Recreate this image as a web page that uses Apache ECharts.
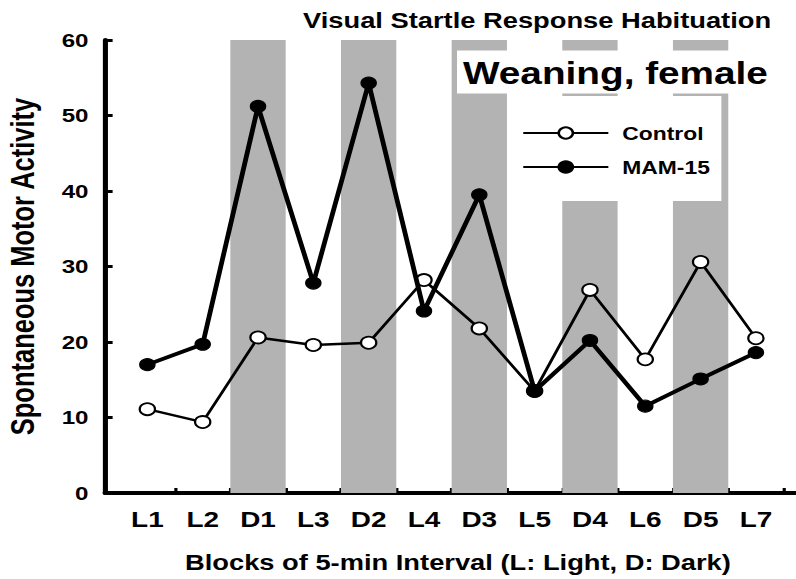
<!DOCTYPE html>
<html>
<head>
<meta charset="utf-8">
<script src="https://cdn.jsdelivr.net/npm/echarts@6/dist/echarts.min.js"></script>
<style>
  html, body { margin: 0; padding: 0; background: #fff; overflow: hidden; }
  /* the figure is laid out narrow and widened horizontally, like the printed plate */
  #chart { width: 626.77px; height: 579px; transform: scaleX(1.27); transform-origin: 0 0; }
</style>
</head>
<body>
<div id="chart"></div>
<script>
// Blocks of 5-min interval (L: light, D: dark)
const blocks = ['L1', 'L2', 'D1', 'L3', 'D2', 'L4', 'D3', 'L5', 'D4', 'L6', 'D5', 'L7'];
const darkBlocks = ['D1', 'D2', 'D3', 'D4', 'D5'];
// Spontaneous motor activity per block
const control = [11.1, 9.4, 20.6, 19.6, 19.9, 28.2, 21.8, 13.5, 26.9, 17.7, 30.6, 20.5];
const mam15 = [17.0, 19.7, 51.2, 27.8, 54.3, 24.1, 39.5, 13.5, 20.2, 11.5, 15.1, 18.6];
// Value axis range and step
const yMin = 0, yMax = 60, yStep = 10;

const S = 1.27;                 // horizontal widening factor
const X = v => v / S;           // page px -> layout px
const FONT = '"Liberation Sans", Arial, Helvetica, sans-serif';
const bold = (size, extra) => Object.assign({ fontFamily: FONT, fontWeight: 'bold', fontSize: size, color: '#000' }, extra || {});

// shaded dark-phase columns reach the top of the value axis
const darkColumn = blocks.map(b => darkBlocks.includes(b) ? yMax : '-');

const chart = echarts.init(document.getElementById('chart'), null, { renderer: 'svg' });

chart.setOption({
  backgroundColor: '#fff',
  animation: false,
  title: [
    { text: 'Visual Startle Response Habituation', left: X(303), top: 10, padding: 0,
      textStyle: bold(21.5) },
    { text: 'Weaning, female', left: X(457), top: 51, padding: [7, 10, 5, 4.7],
      backgroundColor: '#fff', textStyle: bold(30.5, { lineHeight: 30 }) },
    { text: 'Blocks of 5-min Interval (L: Light, D: Dark)', left: X(185), top: 552, padding: 0,
      textStyle: bold(21.5) }
  ],
  legend: {
    data: ['Control', 'MAM-15'],
    orient: 'vertical',
    left: X(507), top: 96,
    padding: [27, 9, 24, 11.8],
    backgroundColor: '#fff',
    itemWidth: 67, itemHeight: 14, itemGap: 14,
    textStyle: bold(18, { lineHeight: 20, padding: [0, 0, 0, 6] })
  },
  grid: [
    { left: X(119.7), right: X(796 - 783.3), top: 40, bottom: 86, outerBoundsMode: 'none' },
    { left: X(105), right: 0, top: 40, bottom: 86, outerBoundsMode: 'none' }
  ],
  xAxis: [
    { type: 'category', data: blocks, gridIndex: 0,
      axisLine: { show: false },
      axisTick: { show: true, inside: true, length: 5, interval: i => i !== 0,
                  lineStyle: { color: '#000', width: 2.5 } },
      axisLabel: bold(22, { margin: 15, fontFamily: '"Liberation Sans Narrow", ' + FONT }),
      splitLine: { show: false } },
    { type: 'value', gridIndex: 1, min: 0, max: 1,
      axisLine: { show: true, lineStyle: { color: '#000', width: 4 } },
      axisTick: { show: false }, axisLabel: { show: false }, splitLine: { show: false } }
  ],
  yAxis: [
    { type: 'value', gridIndex: 0, min: yMin, max: yMax, interval: yStep,
      offset: X(119.7 - 105),
      name: 'Spontaneous Motor Activity', nameLocation: 'middle', nameRotate: 90, nameGap: 52,
      nameTextStyle: bold(25.5),
      axisLine: { show: true, lineStyle: { color: '#000', width: 4 } },
      axisTick: { show: true, inside: true, length: 6, lineStyle: { color: '#000', width: 3 } },
      axisLabel: bold(19, { margin: 13 }),
      splitLine: { show: false } },
    { type: 'value', gridIndex: 1, show: false, min: 0, max: 1 }
  ],
  series: [
    { name: 'Dark phase', type: 'bar', data: darkColumn, barWidth: '100%', barGap: '0%',
      itemStyle: { color: '#b3b3b3' }, silent: true, z: 1 },
    { name: 'Control', type: 'line', data: control, z: 3,
      symbol: 'circle', symbolSize: 12,
      lineStyle: { color: '#000', width: 2.4 },
      itemStyle: { color: '#fff', borderColor: '#000', borderWidth: 1.8 } },
    { name: 'MAM-15', type: 'line', data: mam15, z: 4,
      symbol: 'circle', symbolSize: 12,
      lineStyle: { color: '#000', width: 3.8 },
      itemStyle: { color: '#000', borderColor: '#000', borderWidth: 1 } }
  ]
});
</script>
</body>
</html>
